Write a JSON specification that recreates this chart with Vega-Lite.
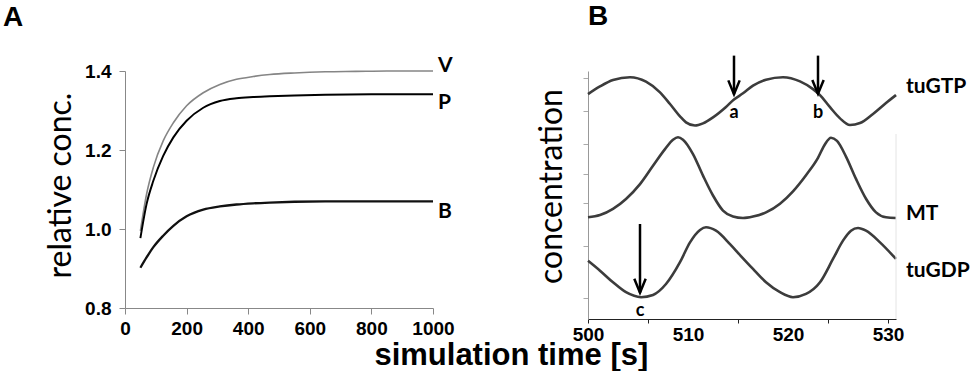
{
  "$schema": "https://vega.github.io/schema/vega-lite/v6.json",
  "background": "white",
  "padding": {"left": 3, "top": 3, "right": 5, "bottom": 0},
  "config": {"view": {"stroke": null}, "axis": {"grid": false}},
  "bounds": "flush",
  "spacing": 155,
  "title": {"text": "simulation time [s]", "orient": "bottom", "anchor": "middle", "font": "Liberation Sans", "fontSize": 31, "fontWeight": "bold", "color": "black", "offset": -3, "dx": 25},
  "datasets": {
    "curvesA": [
      {"t": 50, "v": 0.995, "s": "V"}, {"t": 70, "v": 1.088, "s": "V"}, {"t": 92, "v": 1.156, "s": "V"}, {"t": 124, "v": 1.223, "s": "V"}, {"t": 157, "v": 1.269, "s": "V"}, {"t": 200, "v": 1.312, "s": "V"}, {"t": 254, "v": 1.345, "s": "V"}, {"t": 308, "v": 1.366, "s": "V"}, {"t": 362, "v": 1.379, "s": "V"}, {"t": 416, "v": 1.386, "s": "V"}, {"t": 470, "v": 1.391, "s": "V"}, {"t": 550, "v": 1.395, "s": "V"}, {"t": 650, "v": 1.398, "s": "V"}, {"t": 750, "v": 1.399, "s": "V"}, {"t": 850, "v": 1.4, "s": "V"}, {"t": 1000, "v": 1.4, "s": "V"},
      {"t": 50, "v": 0.977, "s": "P"}, {"t": 70, "v": 1.063, "s": "P"}, {"t": 92, "v": 1.122, "s": "P"}, {"t": 124, "v": 1.185, "s": "P"}, {"t": 157, "v": 1.232, "s": "P"}, {"t": 200, "v": 1.274, "s": "P"}, {"t": 254, "v": 1.307, "s": "P"}, {"t": 308, "v": 1.324, "s": "P"}, {"t": 362, "v": 1.331, "s": "P"}, {"t": 416, "v": 1.334, "s": "P"}, {"t": 470, "v": 1.336, "s": "P"}, {"t": 550, "v": 1.338, "s": "P"}, {"t": 650, "v": 1.34, "s": "P"}, {"t": 800, "v": 1.341, "s": "P"}, {"t": 1000, "v": 1.341, "s": "P"},
      {"t": 50, "v": 0.902, "s": "B"}, {"t": 70, "v": 0.928, "s": "B"}, {"t": 92, "v": 0.954, "s": "B"}, {"t": 124, "v": 0.983, "s": "B"}, {"t": 157, "v": 1.008, "s": "B"}, {"t": 200, "v": 1.032, "s": "B"}, {"t": 254, "v": 1.049, "s": "B"}, {"t": 308, "v": 1.057, "s": "B"}, {"t": 362, "v": 1.062, "s": "B"}, {"t": 416, "v": 1.065, "s": "B"}, {"t": 470, "v": 1.067, "s": "B"}, {"t": 550, "v": 1.069, "s": "B"}, {"t": 650, "v": 1.07, "s": "B"}, {"t": 1000, "v": 1.07, "s": "B"}
    ],
    "labelsA": [
      {"t": 1000, "v": 1.413, "s": "V"}, {"t": 1000, "v": 1.318, "s": "P"}, {"t": 1000, "v": 1.044, "s": "B"}
    ],
    "curvesB": [
      {"t": 500, "v": 90.7, "s": "tuGTP"}, {"t": 501.2, "v": 93.8, "s": "tuGTP"}, {"t": 502.5, "v": 96.4, "s": "tuGTP"}, {"t": 504.2, "v": 97.5, "s": "tuGTP"}, {"t": 505.8, "v": 95.7, "s": "tuGTP"}, {"t": 507.2, "v": 91.4, "s": "tuGTP"}, {"t": 508.2, "v": 86.7, "s": "tuGTP"}, {"t": 509.2, "v": 81.7, "s": "tuGTP"}, {"t": 509.8, "v": 79.3, "s": "tuGTP"}, {"t": 510.7, "v": 78.0, "s": "tuGTP"}, {"t": 511.5, "v": 78.9, "s": "tuGTP"}, {"t": 512.5, "v": 81.3, "s": "tuGTP"}, {"t": 513.8, "v": 85.5, "s": "tuGTP"}, {"t": 514.6, "v": 88.5, "s": "tuGTP"}, {"t": 515.5, "v": 91.0, "s": "tuGTP"}, {"t": 516.5, "v": 94.1, "s": "tuGTP"}, {"t": 517.8, "v": 96.5, "s": "tuGTP"}, {"t": 519.5, "v": 97.5, "s": "tuGTP"}, {"t": 521.2, "v": 95.8, "s": "tuGTP"}, {"t": 522.5, "v": 92.7, "s": "tuGTP"}, {"t": 523.2, "v": 90.3, "s": "tuGTP"}, {"t": 524.2, "v": 85.4, "s": "tuGTP"}, {"t": 525.2, "v": 80.9, "s": "tuGTP"}, {"t": 526.2, "v": 78.2, "s": "tuGTP"}, {"t": 527.2, "v": 79.0, "s": "tuGTP"}, {"t": 528.5, "v": 82.7, "s": "tuGTP"}, {"t": 529.8, "v": 87.1, "s": "tuGTP"}, {"t": 530.8, "v": 90.3, "s": "tuGTP"},
      {"t": 500, "v": 41.0, "s": "MT"}, {"t": 501.2, "v": 41.9, "s": "MT"}, {"t": 502.5, "v": 44.4, "s": "MT"}, {"t": 503.8, "v": 48.4, "s": "MT"}, {"t": 505.2, "v": 54.4, "s": "MT"}, {"t": 506.5, "v": 61.8, "s": "MT"}, {"t": 507.7, "v": 68.5, "s": "MT"}, {"t": 508.5, "v": 72.3, "s": "MT"}, {"t": 509.0, "v": 73.3, "s": "MT"}, {"t": 509.5, "v": 72.3, "s": "MT"}, {"t": 510.5, "v": 66.5, "s": "MT"}, {"t": 511.5, "v": 57.8, "s": "MT"}, {"t": 512.5, "v": 49.8, "s": "MT"}, {"t": 513.5, "v": 43.7, "s": "MT"}, {"t": 514.5, "v": 41.3, "s": "MT"}, {"t": 515.5, "v": 40.7, "s": "MT"}, {"t": 516.5, "v": 41.3, "s": "MT"}, {"t": 517.8, "v": 43.0, "s": "MT"}, {"t": 519.2, "v": 46.5, "s": "MT"}, {"t": 520.5, "v": 51.5, "s": "MT"}, {"t": 521.8, "v": 58.0, "s": "MT"}, {"t": 523.0, "v": 65.0, "s": "MT"}, {"t": 523.7, "v": 70.5, "s": "MT"}, {"t": 524.3, "v": 73.1, "s": "MT"}, {"t": 524.9, "v": 71.8, "s": "MT"}, {"t": 525.8, "v": 65.5, "s": "MT"}, {"t": 526.8, "v": 56.5, "s": "MT"}, {"t": 527.8, "v": 48.5, "s": "MT"}, {"t": 528.8, "v": 43.0, "s": "MT"}, {"t": 529.8, "v": 41.0, "s": "MT"}, {"t": 530.8, "v": 40.7, "s": "MT"},
      {"t": 500, "v": 23.5, "s": "tuGDP"}, {"t": 501.2, "v": 19.5, "s": "tuGDP"}, {"t": 502.5, "v": 14.8, "s": "tuGDP"}, {"t": 503.8, "v": 10.8, "s": "tuGDP"}, {"t": 505.3, "v": 8.8, "s": "tuGDP"}, {"t": 506.5, "v": 9.7, "s": "tuGDP"}, {"t": 507.8, "v": 14.1, "s": "tuGDP"}, {"t": 509.2, "v": 22.9, "s": "tuGDP"}, {"t": 510.2, "v": 30.9, "s": "tuGDP"}, {"t": 511.2, "v": 35.9, "s": "tuGDP"}, {"t": 511.8, "v": 37.0, "s": "tuGDP"}, {"t": 512.8, "v": 35.6, "s": "tuGDP"}, {"t": 514.2, "v": 30.2, "s": "tuGDP"}, {"t": 515.2, "v": 25.8, "s": "tuGDP"}, {"t": 516.5, "v": 20.2, "s": "tuGDP"}, {"t": 517.8, "v": 14.8, "s": "tuGDP"}, {"t": 519.2, "v": 10.8, "s": "tuGDP"}, {"t": 520.5, "v": 8.8, "s": "tuGDP"}, {"t": 521.8, "v": 10.1, "s": "tuGDP"}, {"t": 523.2, "v": 14.8, "s": "tuGDP"}, {"t": 524.5, "v": 24.2, "s": "tuGDP"}, {"t": 525.5, "v": 31.6, "s": "tuGDP"}, {"t": 526.3, "v": 35.6, "s": "tuGDP"}, {"t": 527.0, "v": 36.7, "s": "tuGDP"}, {"t": 527.8, "v": 35.6, "s": "tuGDP"}, {"t": 529.2, "v": 30.9, "s": "tuGDP"}, {"t": 530.8, "v": 24.2, "s": "tuGDP"}
    ],
    "labelsB": [
      {"t": 530.8, "v": 93.4, "s": "tuGTP"}, {"t": 530.8, "v": 42.3, "s": "MT"}, {"t": 530.8, "v": 19.5, "s": "tuGDP"}
    ],
    "arrows": [
      {"t": 514.6, "top": 106.2, "tip": 90.6, "label": "a", "ly": 83.1},
      {"t": 523.0, "top": 106.2, "tip": 90.8, "label": "b", "ly": 83.1},
      {"t": 505.2, "top": 38.3, "tip": 10.6, "label": "c", "ly": 3.4}
    ],
    "border": [{"t": 530.8, "v1": 0, "v2": 74.6}]
  },
  "hconcat": [
    {
      "width": 308,
      "height": 237,
      "title": {"text": "A", "anchor": "start", "frame": "group", "dx": -122, "offset": 23, "font": "Liberation Sans", "fontSize": 28, "fontWeight": "bold", "color": "black"},
      "layer": [
        {
          "data": {"name": "curvesA"},
          "mark": {"type": "line", "interpolate": "monotone"},
          "encoding": {
            "x": {"field": "t", "type": "quantitative", "scale": {"domain": [0, 1000], "nice": false},
              "axis": {"values": [0, 200, 400, 600, 800, 1000], "format": "d", "title": null, "domainColor": "#888888", "tickColor": "#888888", "tickSize": 6, "labelFont": "Liberation Sans", "labelFontSize": 19, "labelFontWeight": "bold", "labelColor": "black", "labelPadding": 5, "labelFlush": false, "labelOverlap": false}},
            "y": {"field": "v", "type": "quantitative", "scale": {"domain": [0.8, 1.4], "nice": false},
              "axis": {"values": [0.8, 1.0, 1.2, 1.4], "format": ".1f", "title": "relative conc.", "titleFont": "Lato", "titleFontSize": 32, "titleFontWeight": "normal", "titleColor": "black", "titlePadding": 7, "titleY": 114, "domainColor": "#888888", "tickColor": "#888888", "tickSize": 6, "labelFont": "Liberation Sans", "labelFontSize": 19, "labelFontWeight": "bold", "labelColor": "black", "labelPadding": 8, "labelOverlap": false}},
            "detail": {"field": "s"},
            "color": {"field": "s", "type": "nominal", "scale": {"domain": ["V", "P", "B"], "range": ["#858585", "#000000", "#111111"]}, "legend": null},
            "strokeWidth": {"field": "s", "type": "nominal", "scale": {"domain": ["V", "P", "B"], "range": [1.6, 2.3, 1.7]}, "legend": null}
          }
        },
        {
          "data": {"name": "labelsA"},
          "mark": {"type": "text", "align": "left", "baseline": "middle", "dx": 5, "font": "Lato", "fontWeight": "bold", "fontSize": 21, "color": "black"},
          "encoding": {
            "x": {"field": "t", "type": "quantitative"},
            "y": {"field": "v", "type": "quantitative"},
            "text": {"field": "s"}
          }
        }
      ]
    },
    {
      "width": 308,
      "height": 248,
      "title": {"text": "B", "anchor": "start", "frame": "group", "dx": 0, "offset": 23, "font": "Liberation Sans", "fontSize": 28, "fontWeight": "bold", "color": "black"},
      "layer": [
        {
          "data": {"name": "curvesB"},
          "mark": {"type": "line", "interpolate": "monotone", "color": "#3c3c3c", "strokeWidth": 2.6},
          "encoding": {
            "x": {"field": "t", "type": "quantitative", "scale": {"domain": [500, 530.8], "nice": false},
              "axis": {"values": [500, 503, 506, 509, 510, 512, 515, 518, 520, 521, 524, 527, 530], "labelExpr": "datum.value % 10 == 0 ? datum.label : ''", "tickOpacity": {"condition": {"test": "datum.value == 510 || datum.value == 520", "value": 0}, "value": 1}, "title": null, "domainColor": "#222222", "tickColor": "#222222", "tickSize": 4, "labelFont": "Liberation Sans", "labelFontSize": 19, "labelFontWeight": "bold", "labelColor": "black", "labelPadding": 2, "labelFlush": false, "labelOverlap": false}},
            "y": {"field": "v", "type": "quantitative", "scale": {"domain": [0, 100], "nice": false},
              "axis": {"values": [97.2, 90.2, 83.8, 77.4, 70.6, 64.3, 58.6, 52.7, 46.9, 41.2, 29.5, 18.8, 8.3], "labels": false, "title": "concentration", "titleFont": "Lato", "titleFontSize": 32, "titleFontWeight": "normal", "titleColor": "black", "titlePadding": 14, "titleY": 115, "domainColor": "#999999", "tickColor": "#aaaaaa", "tickSize": 5}},
            "detail": {"field": "s"}
          }
        },
        {
          "data": {"name": "border"},
          "mark": {"type": "rule", "color": "#e4e4e4", "strokeWidth": 1},
          "encoding": {
            "x": {"field": "t", "type": "quantitative"},
            "y": {"field": "v1", "type": "quantitative"},
            "y2": {"field": "v2"}
          }
        },
        {
          "data": {"name": "arrows"},
          "mark": {"type": "rule", "color": "black", "strokeWidth": 2.5},
          "encoding": {
            "x": {"field": "t", "type": "quantitative"},
            "y": {"field": "top", "type": "quantitative"},
            "y2": {"field": "tip"}
          }
        },
        {
          "data": {"name": "arrows"},
          "mark": {"type": "point", "shape": "M-0.9,-2.2L0,0L0.9,-2.2", "size": 160, "filled": false, "stroke": "black", "strokeWidth": 2.5, "opacity": 1},
          "encoding": {
            "x": {"field": "t", "type": "quantitative"},
            "y": {"field": "tip", "type": "quantitative"}
          }
        },
        {
          "data": {"name": "arrows"},
          "mark": {"type": "text", "align": "center", "baseline": "middle", "font": "Lato", "fontWeight": "bold", "fontSize": 18, "color": "black"},
          "encoding": {
            "x": {"field": "t", "type": "quantitative"},
            "y": {"field": "ly", "type": "quantitative"},
            "text": {"field": "label"}
          }
        },
        {
          "data": {"name": "labelsB"},
          "mark": {"type": "text", "align": "left", "baseline": "middle", "dx": 10, "font": "Lato", "fontWeight": "bold", "fontSize": 21, "color": "black"},
          "encoding": {
            "x": {"field": "t", "type": "quantitative"},
            "y": {"field": "v", "type": "quantitative"},
            "text": {"field": "s"}
          }
        }
      ]
    }
  ]
}
